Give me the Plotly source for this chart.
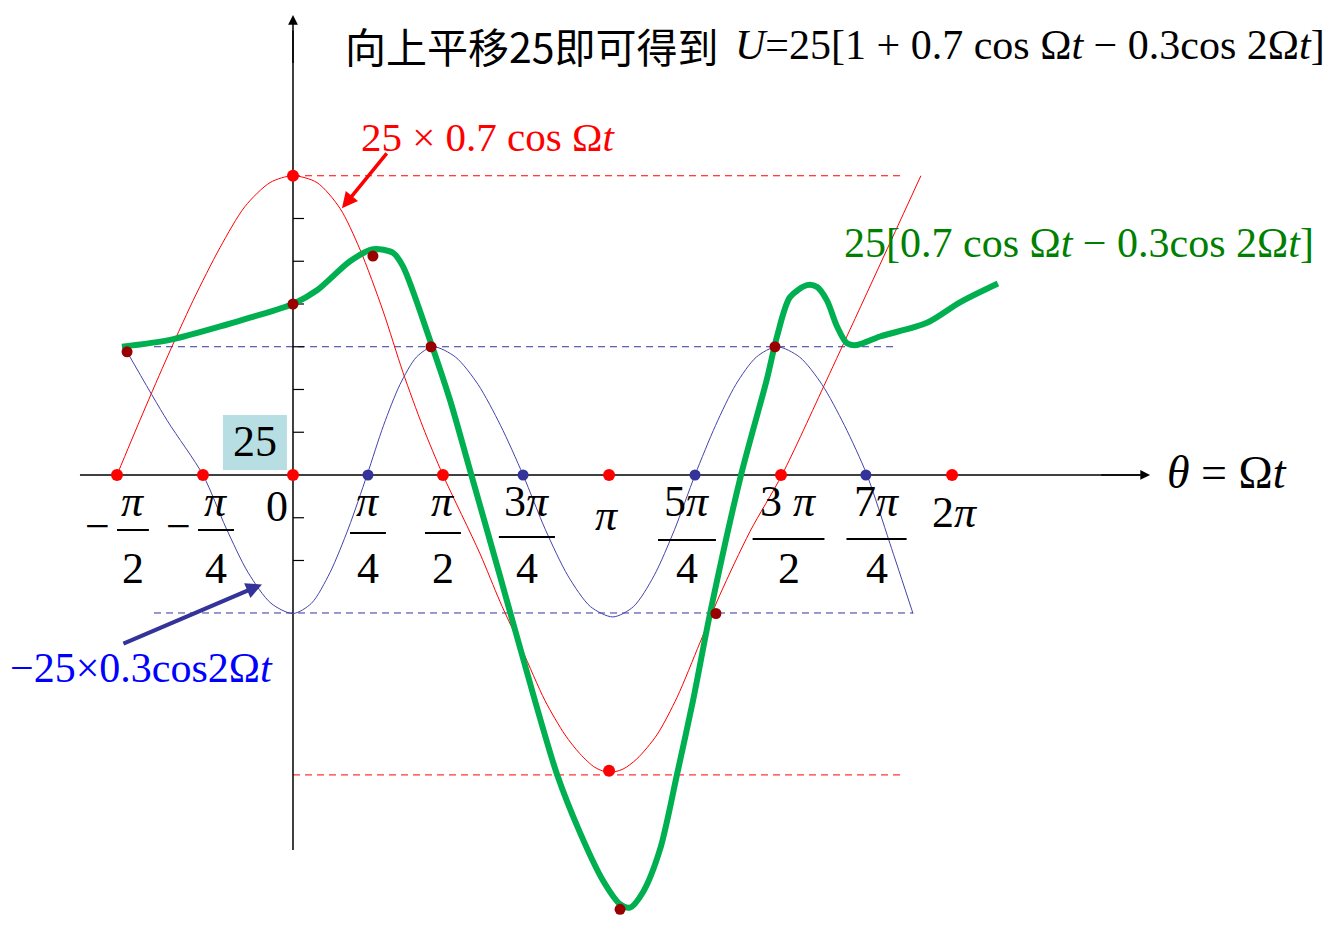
import plotly.graph_objects as go

# ---------------- data (x in degrees of theta, y in chart units) ----------------
RED_X = [-96, -83.5, -69.8, -54.5, -39.8, -26.2, -12.5, 0, 13.1, 25.6, 36.5, 49.1, 60, 70.9,
         81.8, 102, 112.9, 124.9, 137.5, 148.4, 156.5, 164.7, 172.4, 180, 187.6, 198.5,
         209.5, 222, 232.9, 249.3, 266.7, 291.3, 342.5]
RED_Y = [0, 3.2, 6.6, 10.2, 13.3, 15.7, 17.1, 17.5, 17.1, 15.6, 13.2, 9.6, 6.0, 2.8,
         0, -4.6, -7.4, -10.2, -13.2, -15.2, -16.3, -17.1, -17.4, -17.2, -16.6, -15.2,
         -13.0, -9.8, -7.0, -3.3, 0, 5.6, 17.5]

BLUE_X = [-90.5, -68.7, -49.1, -36.5, -24.5, -12, 0, 10.1, 20.2, 30.3, 40.4,
          49.4, 58.4, 67.4, 76.4, 88.6, 100.9, 113.2, 125.5, 137.7, 150, 162.3, 174.5,
          185.7, 196.9, 208.1, 219.3, 230.5, 241.6, 252.8, 264, 276.3, 288.5, 300.8,
          313.1, 325.6, 338.2]
BLUE_Y = [7.2, 3.2, 0, -3.1, -5.7, -7.5, -8.1, -7.5, -5.7, -3.1, 0,
          2.9, 5.3, 6.9, 7.5, 6.9, 5.3, 2.9, 0, -3.2, -5.9, -7.7, -8.3,
          -7.7, -5.9, -3.2, 0, 2.9, 5.3, 6.9, 7.5, 6.9, 5.3, 2.9,
          0, -4.0, -8.1]

GREEN_X = [-93.3, -67.1, -36, -23.5, 0, 13.1, 31.1, 43.6, 54.5, 60, 74.7, 85.6, 96.5,
           112.9, 132, 144, 156.5, 169, 178.4, 183.8, 190.9, 200.2, 209.5, 218.2, 227.5,
           244.4, 258.5, 264, 271.1, 280.4, 285.8, 291.3, 296.7, 302.2, 307.6, 320.2,
           345.8, 363.8, 384.5]
GREEN_Y = [7.5, 7.9, 8.8, 9.2, 10.0, 10.8, 12.5, 13.2, 13.0, 12.2, 7.9, 4.4, 0.3,
           -5.9, -13.2, -17.5, -20.9, -23.7, -25.1, -25.3, -24.4, -21.9, -17.5, -13.2, -8.1,
           0, 5.6, 8.1, 10.4, 11.1, 11.0, 10.2, 8.7, 7.7, 7.6, 8.1,
           8.9, 10.1, 11.2]

RED_DOT_X = [-96, -49.1, 0, 81.8, 172.4, 266.2, 359.5, 0, 172.4]
RED_DOT_Y = [0, 0, 0, 0, 0, 0, 0, 17.5, -17.3]
BLUE_DOT_X = [40.9, 125.5, 219.3, 312.5]
BLUE_DOT_Y = [0, 0, 0, 0]
DARK_DOT_X = [-90.5, 0, 43.6, 75.3, 178.4, 230.7, 262.9]
DARK_DOT_Y = [7.2, 10.0, 12.8, 7.5, -25.4, -8.1, 7.5]

TICK_VALUES = [-5, -2.5, 2.5, 5, 7.5, 10, 12.5, 15]

# guide (dashed) lines: start, end, level
GUIDE_X0 = [0, -75.8, -75.8, 0]
GUIDE_X1 = [333.8, 327.3, 338.2, 333.3]
GUIDE_Y = [17.5, 7.5, -8.07, -17.54]
GUIDE_COLORS = ["#FF0000", "#333399", "#333399", "#FF0000"]

# x-axis fraction labels
FRAC_NUM = ["<i>π</i>", "<i>π</i>", "<i>π</i>", "<i>π</i>", "3<i>π</i>", "5<i>π</i>", "3 <i>π</i>", "7<i>π</i>"]
FRAC_DEN = ["2", "4", "4", "2", "4", "4", "2", "4"]
FRAC_POS = [-87.3, -42.0, 40.9, 81.8, 127.6, 214.9, 270.3, 318.3]
FRAC_HALF = [8.7, 9.8, 9.8, 9.8, 15.3, 15.8, 19.6, 16.4]
FRAC_BAR_Y = [-3.22, -3.22, -3.39, -3.39, -3.63, -3.80, -3.74, -3.74]
NEG_SIGN_POS = [-106.4, -62.2]
SINGLE_LABELS = ["0", "<i>π</i>", "2<i>π</i>"]
SINGLE_POS = [-8.7, 171.3, 361.1]
SINGLE_Y = [-1.87, -2.34, -2.22]

SERIF = "Liberation Serif, Times New Roman, serif"
CJK = "Noto Sans CJK SC, sans-serif"

fig = go.Figure()

# dashed guide lines
for x0, x1, y, c in zip(GUIDE_X0, GUIDE_X1, GUIDE_Y, GUIDE_COLORS):
    fig.add_trace(go.Scatter(x=[x0, x1], y=[y, y], mode="lines",
                             line=dict(color=c, width=1, dash="7px,5px"), hoverinfo="skip"))

# axes lines
fig.add_trace(go.Scatter(x=[-116.2, 462], y=[0, 0], mode="lines",
                         line=dict(color="black", width=1.5), hoverinfo="skip"))
fig.add_trace(go.Scatter(x=[0, 0], y=[-21.93, 26.0], mode="lines",
                         line=dict(color="black", width=1.5), hoverinfo="skip"))
# y ticks
for t in TICK_VALUES:
    fig.add_trace(go.Scatter(x=[0, 6], y=[t, t], mode="lines",
                             line=dict(color="black", width=1.2), hoverinfo="skip"))

# curves
fig.add_trace(go.Scatter(x=RED_X, y=RED_Y, mode="lines",
                         line=dict(color="#FF0000", width=1, shape="spline", smoothing=0.8)))
fig.add_trace(go.Scatter(x=BLUE_X, y=BLUE_Y, mode="lines",
                         line=dict(color="#4444AA", width=1, shape="spline", smoothing=0.8)))
fig.add_trace(go.Scatter(x=GREEN_X, y=GREEN_Y, mode="lines",
                         line=dict(color="#00B050", width=6, shape="spline", smoothing=0.8)))

# dots
fig.add_trace(go.Scatter(x=RED_DOT_X, y=RED_DOT_Y, mode="markers",
                         marker=dict(color="#FF0000", size=12, line=dict(width=0))))
fig.add_trace(go.Scatter(x=BLUE_DOT_X, y=BLUE_DOT_Y, mode="markers",
                         marker=dict(color="#333399", size=11, line=dict(width=0))))
fig.add_trace(go.Scatter(x=DARK_DOT_X, y=DARK_DOT_Y, mode="markers",
                         marker=dict(color="#990000", size=11, line=dict(width=0))))

shapes = []
# fraction bars
for pos, half, by in zip(FRAC_POS, FRAC_HALF, FRAC_BAR_Y):
    shapes.append(dict(type="line", xref="x", yref="y", x0=pos - half, x1=pos + half,
                       y0=by, y1=by, line=dict(color="black", width=2)))
# the "25" box
shapes.append(dict(type="rect", xref="x", yref="y", x0=-38.2, x1=-3.3, y0=0.29, y1=3.51,
                   fillcolor="#B7DEE2", line=dict(width=0), layer="below"))

ann = []
def txt(x, y, text, size, color="black", family=SERIF, xanchor="center"):
    ann.append(dict(x=x, y=y, xref="x", yref="y", text=text, showarrow=False,
                    font=dict(size=size, color=color, family=family),
                    xanchor=xanchor, yanchor="middle"))

for pos, num, den in zip(FRAC_POS, FRAC_NUM, FRAC_DEN):
    txt(pos, -1.55, num, 44)
    txt(pos, -5.45, den, 44)
for pos in NEG_SIGN_POS:
    txt(pos, -3.0, "−", 44)
for lab, pos, y in zip(SINGLE_LABELS, SINGLE_POS, SINGLE_Y):
    txt(pos, y, lab, 44)

txt(-20.7, 1.93, "25", 44)
txt(27.3, 25.15, "向上平移25即可得到", 41, family=CJK, xanchor="left")
txt(239.8, 25.15, "<i>U</i>=25[1 + 0.7 cos Ω<i>t</i> − 0.3cos 2Ω<i>t</i>]", 42, xanchor="left")
txt(106.9, 19.77, "25 × 0.7 cos Ω<i>t</i>", 41, color="#FF0000")
txt(299.5, 13.57, "25[0.7 cos Ω<i>t</i> − 0.3cos 2Ω<i>t</i>]", 42, color="#008000", xanchor="left")
txt(-10.0, -11.29, "−25×0.3cos2Ω<i>t</i>", 42, color="#0000FF", xanchor="right")
txt(475.6, 0.12, "<i>θ</i> = Ω<i>t</i>", 46, xanchor="left")

# arrows
def arrow(x0, y0, x1, y1, color, width, head=2, size=1.0):
    ann.append(dict(x=x1, y=y1, ax=x0, ay=y0, xref="x", yref="y", axref="x", ayref="y",
                    text="", showarrow=True, arrowhead=head, arrowsize=size,
                    arrowwidth=width, arrowcolor=color, standoff=0, startstandoff=0))

arrow(440, 0, 467.5, 0, "black", 1.5, head=2, size=1.3)
arrow(0, 24, 0, 26.9, "black", 1.5, head=2, size=1.3)
arrow(51.8, 18.9, 26.7, 15.6, "#FF0000", 3.5, head=2, size=0.9)
arrow(-93.3, -9.9, -16.9, -6.4, "#333399", 4, head=2, size=0.8)

# page body has an 8px margin: figure is 16px smaller and ranges are offset accordingly
fig.update_layout(
    width=1323, height=915, autosize=False,
    margin=dict(l=0, r=0, t=0, b=0, pad=0),
    paper_bgcolor="white", plot_bgcolor="white",
    showlegend=False,
    xaxis=dict(range=[-155.45, 566.2], visible=False, fixedrange=True),
    yaxis=dict(range=[-26.20, 27.31], visible=False, fixedrange=True),
    shapes=shapes, annotations=ann,
)

fig.write_html("out.html")
